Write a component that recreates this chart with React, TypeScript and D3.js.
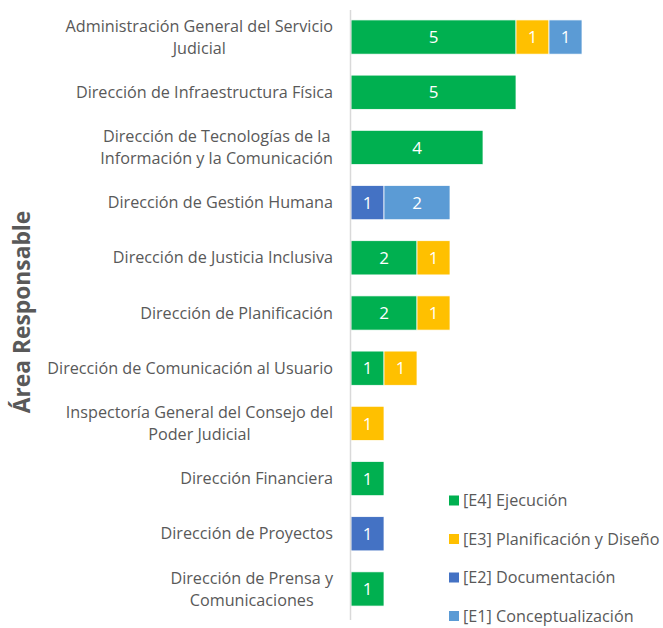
import React from "react";
import * as d3 from "d3";

const categories: string[][] = [
  ["Administración General del Servicio", "Judicial"],
  ["Dirección de Infraestructura Física"],
  ["Dirección de Tecnologías de la", "Información y la Comunicación"],
  ["Dirección de Gestión Humana"],
  ["Dirección de Justicia Inclusiva"],
  ["Dirección de Planificación"],
  ["Dirección de Comunicación al Usuario"],
  ["Inspectoría General del Consejo del", "Poder Judicial"],
  ["Dirección Financiera"],
  ["Dirección de Proyectos"],
  ["Dirección de Prensa y", "Comunicaciones"],
];

const seriesNames = [
  "[E4] Ejecución",
  "[E3] Planificación y Diseño",
  "[E2] Documentación",
  "[E1] Conceptualización",
];
const seriesColors = ["#00B050", "#FFC000", "#4472C4", "#5B9BD5"];

const e4 = [5, 5, 4, 0, 2, 2, 1, 0, 1, 0, 1];
const e3 = [1, 0, 0, 0, 1, 1, 1, 1, 0, 0, 0];
const e2 = [0, 0, 0, 1, 0, 0, 0, 0, 0, 1, 0];
const e1 = [1, 0, 0, 2, 0, 0, 0, 0, 0, 0, 0];

const axisTitle = "Área Responsable";

const FONT = "'Open Sans', 'Noto Sans', sans-serif";
const LABEL_SIZE = 16.2;

let ctx: CanvasRenderingContext2D | null = null;
function measure(t: string, size: number) {
  if (!ctx) {
    const c = document.createElement("canvas");
    ctx = c.getContext("2d");
  }
  if (!ctx) return t.length * size * 0.5;
  ctx.font = `${size}px 'Open Sans'`;
  return ctx.measureText(t).width;
}

export default function App() {
  const W = 663;
  const H = 628;
  const textColor = "#595959";
  const series = [e4, e3, e2, e1];
  const keys = categories.map((c) => c.join(" "));

  const y = d3
    .scaleBand<string>()
    .domain(keys)
    .range([10, 616])
    .paddingInner(0.38)
    .paddingOuter(0.18);
  const x = d3.scaleLinear().domain([0, 5]).range([351, 516]);

  const rows = keys.map((k, i) => {
    const r: any = { key: k };
    seriesNames.forEach((s, j) => (r[s] = series[j][i]));
    return r;
  });
  const stacked = d3.stack<any>().keys(seriesNames)(rows);

  return (
    <svg
      width={W}
      height={H}
      style={{ display: "block", background: "#fff", position: "absolute", left: 0, top: 0 }}
    >
      {stacked.map((layer, j) =>
        layer.map((d, i) => {
          const v = d[1] - d[0];
          if (v <= 0) return null;
          const x0 = x(d[0]);
          const x1 = x(d[1]);
          const yy = y(keys[i])!;
          return (
            <g key={`${j}-${i}`}>
              <rect
                x={x0}
                y={yy}
                width={x1 - x0}
                height={y.bandwidth()}
                fill={seriesColors[j]}
                stroke="#fff"
                strokeWidth={0.75}
              />
              <text
                x={(x0 + x1) / 2}
                y={yy + y.bandwidth() / 2}
                dy="0.36em"
                textAnchor="middle"
                fill="#fff"
                fontFamily={FONT}
                fontSize={17}
              >
                {v}
              </text>
            </g>
          );
        })
      )}
      <line x1={350.5} x2={350.5} y1={10} y2={620} stroke="#d9d9d9" strokeWidth={1.5} />
      {categories.map((lines, i) => {
        const cy = y(keys[i])! + y.bandwidth() / 2;
        const lh = 22;
        const start = cy - ((lines.length - 1) * lh) / 2;
        const bw = Math.max(...lines.map((l) => measure(l, LABEL_SIZE)));
        const cx = 333 - bw / 2;
        return (
          <text
            key={i}
            textAnchor="middle"
            fill={textColor}
            fontFamily={FONT}
            fontSize={LABEL_SIZE}
          >
            {lines.map((l, k) => (
              <tspan key={k} x={cx} y={start + k * lh} dy="0.35em">
                {l}
              </tspan>
            ))}
          </text>
        );
      })}
      <text
        transform={`translate(22, 312) rotate(-90)`}
        textAnchor="middle"
        dy="0.35em"
        fill={textColor}
        fontFamily={FONT}
        fontSize={22.8}
        fontWeight="bold"
      >
        {axisTitle}
      </text>
      {seriesNames.map((s, j) => {
        const ly = 500.5 + j * 38.5;
        return (
          <g key={s}>
            <rect x={449} y={ly - 5} width={10} height={10} fill={seriesColors[j]} />
            <text
              x={463}
              y={ly}
              dy="0.35em"
              fill={textColor}
              fontFamily={FONT}
              fontSize={LABEL_SIZE}
            >
              {s}
            </text>
          </g>
        );
      })}
    </svg>
  );
}
